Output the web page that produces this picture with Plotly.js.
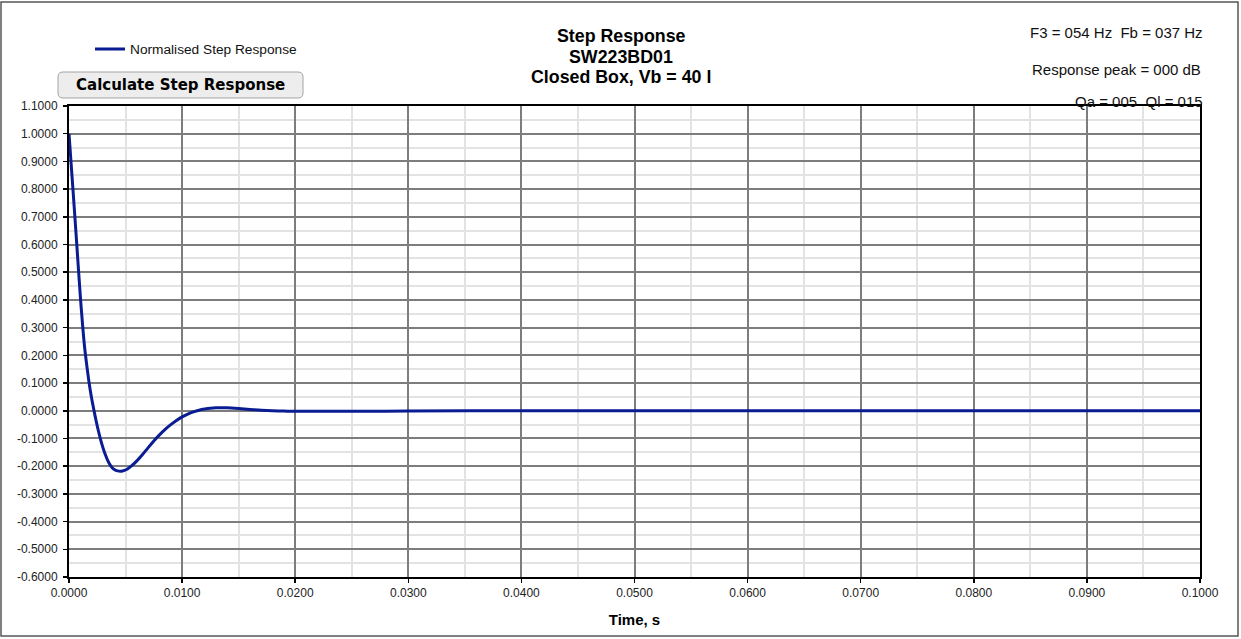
<!DOCTYPE html>
<html>
<head>
<meta charset="utf-8">
<script src="https://cdn.plot.ly/plotly-3.0.1.min.js"></script>
<style>
  body { margin: 0; background: #fff; }
  #graph { width: 1241px; height: 639px; }
</style>
</head>
<body>
<div id="graph"></div>
<script>
// step response samples (time in s, normalised amplitude)
var time = [0, 0.0002, 0.0004, 0.0006, 0.0008, 0.0010, 0.0012, 0.0014, 0.0016, 0.0018,
            0.0020, 0.0022, 0.0024, 0.0026, 0.0028, 0.0030, 0.0032, 0.0034, 0.0036, 0.0038,
            0.0040, 0.0043, 0.0046, 0.0049, 0.0052, 0.0055, 0.0060, 0.0065, 0.0070, 0.0075,
            0.0080, 0.0085, 0.0090, 0.0095, 0.0100, 0.0105, 0.0110, 0.0115, 0.0120, 0.0125,
            0.0130, 0.0135, 0.0140, 0.0150, 0.0160, 0.0170, 0.0180, 0.0190, 0.0200, 0.0250,
            0.0300, 0.0400, 0.0500, 0.0600, 0.0700, 0.0800, 0.0900, 0.1000];
var response = [1.000, 0.885, 0.770, 0.652, 0.532, 0.415, 0.310, 0.222, 0.155, 0.095,
                0.045, 0.003, -0.037, -0.073, -0.105, -0.133, -0.157, -0.177, -0.193, -0.205,
                -0.212, -0.217, -0.218, -0.215, -0.209, -0.200, -0.181, -0.158, -0.133, -0.109,
                -0.087, -0.067, -0.050, -0.035, -0.022, -0.012, -0.004, 0.002, 0.006, 0.009,
                0.0105, 0.011, 0.0105, 0.008, 0.005, 0.002, 0.000, -0.001, -0.002, -0.002,
                -0.001, 0.000, 0.000, 0.000, 0.000, 0.000, 0.000, 0.000];

var xTickVals = [0, 0.01, 0.02, 0.03, 0.04, 0.05, 0.06, 0.07, 0.08, 0.09, 0.1];
var xTickLabels = ['0.0000', '0.0100', '0.0200', '0.0300', '0.0400', '0.0500',
                   '0.0600', '0.0700', '0.0800', '0.0900', '0.1000'];
var yTickVals = [1.1, 1.0, 0.9, 0.8, 0.7, 0.6, 0.5, 0.4, 0.3, 0.2, 0.1, 0,
                 -0.1, -0.2, -0.3, -0.4, -0.5, -0.6];
var yTickLabels = ['1.1000', '1.0000', '0.9000', '0.8000', '0.7000', '0.6000', '0.5000',
                   '0.4000', '0.3000', '0.2000', '0.1000', '0.0000', '-0.1000', '-0.2000',
                   '-0.3000', '-0.4000', '-0.5000', '-0.6000'];

var seriesName = 'Normalised Step Response';
var titleLines = ['Step Response', 'SW223BD01', 'Closed Box, Vb = 40 l'];
var infoLines = ['F3 = 054 Hz&nbsp; Fb = 037 Hz', 'Response peak = 000 dB', 'Qa = 005&nbsp; Ql = 015'];
var buttonLabel = 'Calculate Step Response';

var W = 1241, H = 639;
var M = {l: 69, r: 41, t: 106, b: 62};

// pixel -> paper helpers for the decorations
function px(x) { return (x - M.l) / (W - M.l - M.r); }
function py(y) { return (H - M.b - y) / (H - M.t - M.b); }

function roundRect(x0, y0, x1, y1, r) {
  return 'M' + px(x0 + r) + ',' + py(y0) +
         ' L' + px(x1 - r) + ',' + py(y0) +
         ' Q' + px(x1) + ',' + py(y0) + ' ' + px(x1) + ',' + py(y0 + r) +
         ' L' + px(x1) + ',' + py(y1 - r) +
         ' Q' + px(x1) + ',' + py(y1) + ' ' + px(x1 - r) + ',' + py(y1) +
         ' L' + px(x0 + r) + ',' + py(y1) +
         ' Q' + px(x0) + ',' + py(y1) + ' ' + px(x0) + ',' + py(y1 - r) +
         ' L' + px(x0) + ',' + py(y0 + r) +
         ' Q' + px(x0) + ',' + py(y0) + ' ' + px(x0 + r) + ',' + py(y0) + ' Z';
}

// half-step minor grid positions
var xMinor = [], yMinor = [];
for (var i = 0; i < 10; i++) xMinor.push(0.005 + i * 0.01);
for (var j = 0; j < 17; j++) yMinor.push(-0.55 + j * 0.1);

var trace1 = {
  x: time,
  y: response,
  mode: 'lines',
  type: 'scatter',
  name: seriesName,
  line: {color: '#0a1c92', width: 3, shape: 'spline', smoothing: 0.8}
};

var fam = 'Liberation Sans, Arial, sans-serif';
var font = {family: fam, size: 12, color: '#222'};

var annotations = [
  {text: buttonLabel, xref: 'paper', yref: 'paper', x: px(180.5), y: py(85),
   xanchor: 'center', yanchor: 'middle', showarrow: false,
   font: {family: 'DejaVu Sans, sans-serif', size: 15, color: '#000', weight: 'bold'}},
  {text: infoLines[0], xref: 'paper', yref: 'paper', x: px(1205), y: py(32),
   xanchor: 'right', yanchor: 'middle', showarrow: false,
   font: {family: fam, size: 15, color: '#111'}},
  {text: infoLines[1], xref: 'paper', yref: 'paper', x: px(1203), y: py(69),
   xanchor: 'right', yanchor: 'middle', showarrow: false,
   font: {family: fam, size: 15, color: '#111'}},
  {text: infoLines[2], xref: 'paper', yref: 'paper', x: px(1205), y: py(101),
   xanchor: 'right', yanchor: 'middle', showarrow: false,
   font: {family: fam, size: 15, color: '#111'}}
];
// three-line chart title
var titleY = [36, 57, 77];
for (var k = 0; k < titleLines.length; k++) {
  annotations.push({text: titleLines[k], xref: 'paper', yref: 'paper', x: px(621), y: py(titleY[k]),
    xanchor: 'center', yanchor: 'middle', showarrow: false,
    font: {family: fam, size: 17.8, color: '#000', weight: 'bold'}});
}

var layout = {
  width: W,
  height: H,
  margin: M,
  paper_bgcolor: '#fff',
  plot_bgcolor: '#fff',
  font: font,
  showlegend: true,
  legend: {
    x: px(90), y: py(49), xanchor: 'left', yanchor: 'middle',
    bgcolor: 'rgba(0,0,0,0)',
    font: {family: fam, size: 13.7, color: '#111'}
  },
  xaxis: {
    range: [0, 0.1],
    tickmode: 'array', tickvals: xTickVals, ticktext: xTickLabels,
    showgrid: true, gridcolor: '#7d7d7d', gridwidth: 2,
    minor: {tickmode: 'array', tickvals: xMinor, showgrid: true, gridcolor: '#e3e3e3', gridwidth: 2, ticks: ''},
    zeroline: false,
    showline: true, linecolor: '#000', linewidth: 2, mirror: true,
    ticks: 'outside', ticklen: 4, tickwidth: 1.5, tickcolor: '#000',
    title: {text: 'Time, s', font: {family: fam, size: 15, color: '#000', weight: 'bold'}, standoff: 15}
  },
  yaxis: {
    range: [-0.6, 1.1],
    tickmode: 'array', tickvals: yTickVals, ticktext: yTickLabels,
    showgrid: true, gridcolor: '#7d7d7d', gridwidth: 2,
    minor: {tickmode: 'array', tickvals: yMinor, showgrid: true, gridcolor: '#e3e3e3', gridwidth: 2, ticks: ''},
    zeroline: false,
    showline: true, linecolor: '#000', linewidth: 2, mirror: true,
    ticks: 'outside', ticklen: 4, tickwidth: 1.5, tickcolor: '#000',
    ticklabelstandoff: 3
  },
  shapes: [
    // outer chart frame
    {type: 'rect', xref: 'paper', yref: 'paper', x0: px(1), x1: px(1238), y0: py(636), y1: py(2),
     line: {color: '#555', width: 1.5}, fillcolor: 'rgba(0,0,0,0)', layer: 'below'},
    // button
    {type: 'path', xref: 'paper', yref: 'paper', path: roundRect(58, 72, 303, 98, 5),
     line: {color: '#a3a3a3', width: 1}, fillcolor: '#ededed'}
  ],
  annotations: annotations
};

Plotly.newPlot('graph', [trace1], layout, {staticPlot: true});
</script>
</body>
</html>
